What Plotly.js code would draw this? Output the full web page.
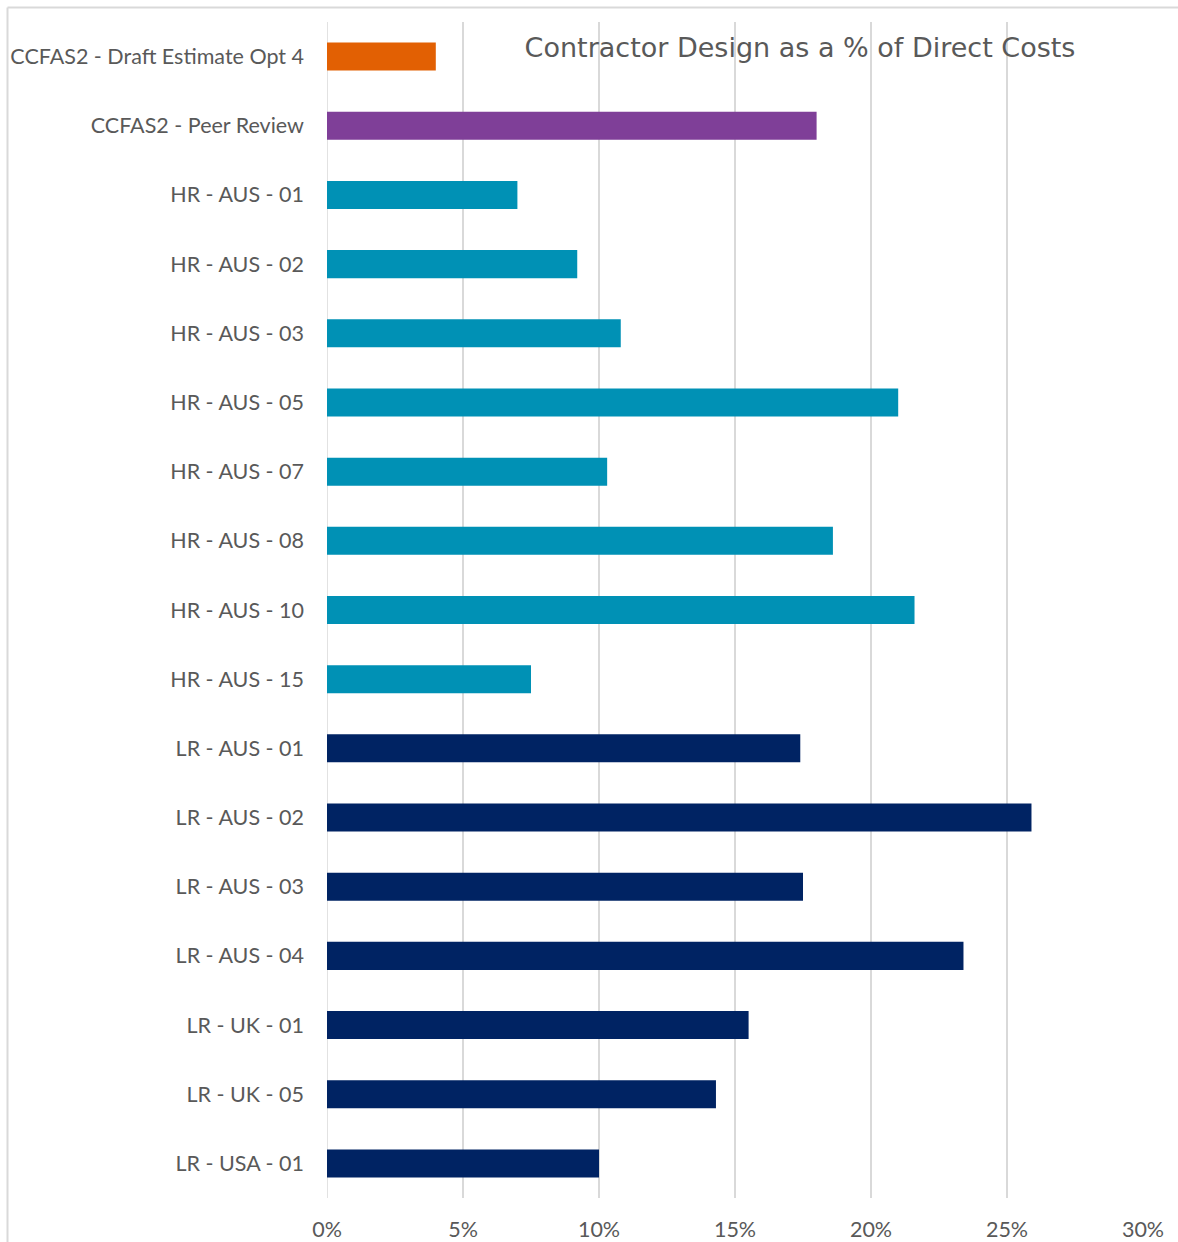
<!DOCTYPE html>
<html>
<head>
<meta charset="utf-8">
<script src="https://cdn.plot.ly/plotly-3.0.1.min.js"></script>
<style>
html,body{margin:0;padding:0;background:#fff;}
#chart{width:1178px;height:1242px;}
</style>
</head>
<body>
<div id="chart"></div>
<script>
const categories = [
  "CCFAS2 - Draft Estimate Opt 4",
  "CCFAS2 - Peer Review",
  "HR - AUS - 01",
  "HR - AUS - 02",
  "HR - AUS - 03",
  "HR - AUS - 05",
  "HR - AUS - 07",
  "HR - AUS - 08",
  "HR - AUS - 10",
  "HR - AUS - 15",
  "LR - AUS - 01",
  "LR - AUS - 02",
  "LR - AUS - 03",
  "LR - AUS - 04",
  "LR - UK - 01",
  "LR - UK - 05",
  "LR - USA - 01"
];
const values = [0.040, 0.180, 0.070, 0.092, 0.108, 0.210, 0.103, 0.186, 0.216, 0.075,
                0.174, 0.259, 0.175, 0.234, 0.155, 0.143, 0.100];
const groups = ["Draft", "Peer", "HR", "HR", "HR", "HR", "HR", "HR", "HR", "HR",
                "LR", "LR", "LR", "LR", "LR", "LR", "LR"];
const xTickValues = [0, 0.05, 0.10, 0.15, 0.20, 0.25, 0.30];
const xTickLabels = ["0%", "5%", "10%", "15%", "20%", "25%", "30%"];
const titleText = "Contractor Design as a % of Direct Costs";

const groupColors = {Draft: "#E26003", Peer: "#7F3F98", HR: "#0091B5", LR: "#002363"};

const W = 1178, H = 1242;
const L = 327, R = 35, T = 22, B = 44;
const pw = W - L - R, ph = H - T - B;
const px2x = p => (p - L) / pw;
const py2y = p => (H - B - p) / ph;

const trace = {
  type: "bar",
  orientation: "h",
  y: categories,
  x: values,
  marker: {color: groups.map(g => groupColors[g])},
  hoverinfo: "x+y"
};

const layout = {
  width: W, height: H,
  margin: {l: L, r: R, t: T, b: B, pad: 0},
  paper_bgcolor: "#ffffff",
  plot_bgcolor: "#ffffff",
  showlegend: false,
  bargap: 0.595,
  font: {family: "Lato, 'Open Sans', sans-serif", color: "#595959", size: 21.5},
  title: {
    text: titleText,
    font: {family: "'DejaVu Sans', Verdana, sans-serif", size: 27, color: "#595959"},
    xref: "container", x: 800 / W, xanchor: "center",
    yref: "container", y: 1 - 48 / H, yanchor: "middle"
  },
  xaxis: {
    range: [0, 0.30],
    tickvals: xTickValues,
    ticktext: xTickLabels,
    showgrid: true,
    gridcolor: "#D9D9D9",
    gridwidth: 1.5,
    zeroline: false,
    showline: false,
    ticks: "",
    ticklabelstandoff: 16,
    tickfont: {size: 21.5, color: "#595959"},
    fixedrange: true
  },
  yaxis: {
    type: "category",
    autorange: "reversed",
    showgrid: false,
    zeroline: false,
    showline: false,
    ticks: "",
    ticklabelstandoff: 22,
    tickfont: {size: 21.5, color: "#595959"},
    fixedrange: true
  },
  shapes: [
    {type: "line", xref: "paper", yref: "paper",
     x0: px2x(7.5), x1: px2x(1200), y0: py2y(7.5), y1: py2y(7.5),
     line: {color: "#D9D9D9", width: 2}},
    {type: "line", xref: "paper", yref: "paper",
     x0: px2x(7.5), x1: px2x(7.5), y0: py2y(7.5), y1: py2y(1260),
     line: {color: "#D9D9D9", width: 2}},
    {type: "line", xref: "x", yref: "paper",
     x0: 0, x1: 0, y0: 0, y1: 1,
     line: {color: "#D9D9D9", width: 1.5}, layer: "below"}
  ]
};

Plotly.newPlot("chart", [trace], layout, {displayModeBar: false, staticPlot: true});
</script>
</body>
</html>
